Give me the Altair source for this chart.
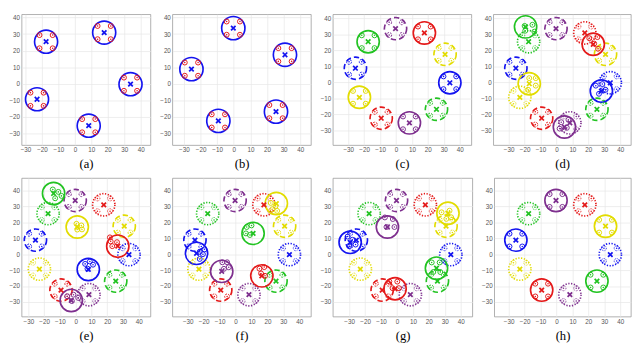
import altair as alt
import pandas as pd

TICKS = [-30, -20, -10, 0, 10, 20, 30, 40]

# initial cluster centres (panel a) and target centres (panel b)
A_X = [-17.5, 17.8, 33.8, -23.0, 8.4]
A_Y = [25.4, 30.9, -0.3, -9.4, -25.4]
A_COL = ["green", "red", "blue", "yellow", "purple"]
B_X = [-0.3, 30.8, -25.5, -9.3, 25.4]
B_Y = [33.6, 17.5, 8.8, -22.5, -16.9]
B_COL = ["purple", "yellow", "blue", "red", "green"]

PALETTE = {"green": "#22c322", "red": "#e41a1a", "blue": "#1414f0",
           "yellow": "#e2dc00", "purple": "#7e2f8e"}

# member offsets inside a static cluster
OFF_DX = [-4, 4, -4, 4]
OFF_DY = [4, 4, -4, -4]

# moving (solid) clusters, order: green, red, blue, yellow, purple
MOVE_COL = ["green", "red", "blue", "yellow", "purple"]
MOVE_X = {
    "c": [-17.5, 17.8, 33.8, -23.0, 8.4],
    "d": [-19.4, 23.1, 28.2, -17.1, 5.0],
    "e": [-14.0, 26.7, 8.0, 1.0, -2.8],
    "f": [11.0, 16.5, -24.5, 25.6, -8.7],
    "g": [24.8, -1.2, -29.4, 32.0, -6.0],
    "h": [25.4, -9.3, -25.5, 30.8, -0.3],
}
MOVE_Y = {
    "c": [25.4, 30.9, -0.3, -9.4, -25.4],
    "d": [34.7, 23.8, -5.5, -0.9, -28.0],
    "e": [38.0, 5.0, -9.6, 17.0, -29.0],
    "f": [13.0, -13.6, 0.5, 31.7, -10.8],
    "g": [-8.8, -21.7, 7.4, 25.6, 17.0],
    "h": [-16.9, -22.5, 8.8, 17.5, 33.6],
}
# member offsets of the moving clusters (4 members each)
MOVE_DX = {
    "d": [[-0.6, 4.3, -0.2, 5.5], [-2.5, 2.6, 0.6, 3.0], [-3.5, 0.6, 2.6, -1.5],
          [0.0, 4.1, 4.1, -0.7], [-2.0, 2.5, -3.0, 1.5]],
    "e": [[-0.5, 3.0, 5.0, 1.0], [-4.5, -3.5, -0.5, -5.0], [-2.0, 1.0, -0.5, 3.0],
          [-0.5, 2.6, 0.0, 3.0], [-2.6, 1.4, 4.4, 0.4]],
    "f": [[-4.0, -1.0, -4.5, -2.0], [-1.5, 1.5, -0.5, 2.0], [2.0, 4.0, 2.0, 5.0],
          [-3.5, -0.5, -2.5, 0.5], [0.4, 3.4, 4.4, 1.4]],
    "g": [[-3.0, 2.0, -2.0, 2.4], [-3.6, 1.4, -1.6, 2.4], [-1.6, 1.4, -0.6, 3.4],
          [-4.0, 1.0, -1.0, 2.0], [-1.6, 3.4, -0.6, 4.4]],
}
MOVE_DY = {
    "d": [[0.6, 1.3, -2.4, -3.0], [3.8, 4.5, 0.4, -2.8], [3.4, 4.4, 0.8, -1.7],
          [3.5, 3.5, -1.2, -3.8], [3.0, 4.5, -1.0, -0.5]],
    "e": [[2.5, 1.0, -1.5, -3.0], [3.0, 0.0, 2.5, 5.5], [3.5, 5.0, 0.5, 3.0],
          [2.0, 1.0, -1.6, -1.5], [2.6, 3.6, 1.6, -0.4]],
    "f": [[4.0, 5.0, 0.0, -1.0], [4.5, 5.5, 1.5, 0.0], [1.0, -0.5, -3.5, 2.5],
          [0.4, -1.6, -3.6, -4.6], [5.7, 5.7, 2.6, 1.6]],
    "g": [[3.6, 3.6, -2.4, -2.4], [4.5, 4.5, 0.4, 0.4], [3.6, 1.6, -2.4, -1.4],
          [0.6, 1.6, -3.5, -2.5], [6.0, 5.0, 0.0, 0.0]],
}

circ_rows, mk_rows = [], []


def add_cluster(p, cx, cy, ccol, mcol, sty, dxs, dys):
    circ_rows.append(dict(panel=p, x=cx, y=cy, col=ccol, sty=sty))
    for dx, dy in zip(dxs, dys):
        mk_rows.append(dict(panel=p, x=cx + dx, y=cy + dy, col=mcol, sty=sty))


for i in range(5):
    add_cluster("a", A_X[i], A_Y[i], PALETTE["blue"], PALETTE["red"], "solid", OFF_DX, OFF_DY)
    add_cluster("b", B_X[i], B_Y[i], PALETTE["blue"], PALETTE["red"], "solid", OFF_DX, OFF_DY)

for p in ["c", "d", "e", "f", "g", "h"]:
    if p != "c":
        for i in range(5):
            c = PALETTE[A_COL[i]]
            add_cluster(p, A_X[i], A_Y[i], c, c, "dotted", OFF_DX, OFF_DY)
    if p != "h":
        for i in range(5):
            c = PALETTE[B_COL[i]]
            add_cluster(p, B_X[i], B_Y[i], c, c, "dashed", OFF_DX, OFF_DY)
    for i in range(5):
        c = PALETTE[MOVE_COL[i]]
        dxs = MOVE_DX[p][i] if p in MOVE_DX else OFF_DX
        dys = MOVE_DY[p][i] if p in MOVE_DY else OFF_DY
        add_cluster(p, MOVE_X[p][i], MOVE_Y[p][i], c, c, "solid", dxs, dys)

circ_df = pd.DataFrame(circ_rows)
mk_df = pd.DataFrame(mk_rows)

BIG_DASH = {"dotted": [1.3, 1.6], "dashed": [5.5, 3.2], "solid": None}
SMALL_DASH = {"dotted": [0.8, 0.9], "dashed": [2.0, 1.2], "solid": None}


def panel(p, title, xd, yd, w, h, big):
    X = alt.X("x:Q", scale=alt.Scale(domain=xd, nice=False, zero=False),
              axis=alt.Axis(values=TICKS, title=title, titleFont="Liberation Serif",
                            titleFontSize=13, titleFontWeight="normal",
                            titleColor="#000000", titlePadding=5))
    Y = alt.Y("y:Q", scale=alt.Scale(domain=yd, nice=False, zero=False),
              axis=alt.Axis(values=TICKS, title=None))
    C = alt.Color("col:N", scale=None)
    layers = []
    for sty in ["dotted", "dashed", "solid"]:
        kw = {}
        if BIG_DASH[sty]:
            kw["strokeDash"] = BIG_DASH[sty]
        layers.append(
            alt.Chart(circ_df).transform_filter(
                f"datum.panel=='{p}' && datum.sty=='{sty}'")
            .mark_point(shape="circle", filled=False, size=big, strokeWidth=1.7,
                        opacity=1, clip=True, **kw)
            .encode(x=X, y=Y, color=C))
        kw2 = {}
        if SMALL_DASH[sty]:
            kw2["strokeDash"] = SMALL_DASH[sty]
        layers.append(
            alt.Chart(mk_df).transform_filter(
                f"datum.panel=='{p}' && datum.sty=='{sty}'")
            .mark_point(shape="circle", filled=False, size=26, strokeWidth=1.0,
                        opacity=1, clip=True, **kw2)
            .encode(x=X, y=Y, color=C))
    layers.append(
        alt.Chart(mk_df).transform_filter(f"datum.panel=='{p}'")
        .mark_point(shape="circle", filled=True, size=2.5, opacity=1, clip=True)
        .encode(x=X, y=Y, color=C))
    layers.append(
        alt.Chart(circ_df).transform_filter(f"datum.panel=='{p}'")
        .mark_point(shape="M-1,-1L1,1M-1,1L1,-1", filled=False, size=22,
                    strokeWidth=1.8, opacity=1, clip=True)
        .encode(x=X, y=Y, color=C))
    return alt.layer(*layers).properties(width=w, height=h)


row1 = alt.hconcat(
    panel("a", "(a)", [-32.4, 45.9], [-37.1, 42.0], 133, 135, 566),
    panel("b", "(b)", [-37.0, 46.4], [-37.1, 42.0], 143, 135, 576),
    panel("c", "(c)", [-39.7, 47.3], [-39.3, 42.6], 143, 135, 529),
    panel("d", "(d)", [-39.7, 46.7], [-39.3, 42.6], 142, 135, 529),
    spacing=7.6,
)
row2 = alt.hconcat(
    panel("e", "(e)", [-34.3, 47.4], [-39.1, 47.7], 133, 143, 529),
    panel("f", "(f)", [-39.7, 47.3], [-39.1, 47.7], 143, 143, 529),
    panel("g", "(g)", [-40.3, 47.3], [-39.1, 47.7], 144, 143, 529),
    panel("h", "(h)", [-39.1, 46.7], [-39.1, 47.7], 141, 143, 529),
    spacing=7.6,
)

chart = alt.vconcat(row1, row2, spacing=6).properties(
    padding=0, background="white"
).configure_view(
    stroke="#9a9a9a", strokeWidth=0.8
).configure_axis(
    labelFont="Liberation Sans", labelFontSize=6.5, labelColor="#555555",
    grid=True, gridColor="#e6e6e6", gridWidth=0.7, ticks=False, domain=False,
    labelPadding=2,
)

chart.save("out.html", embed_options={"renderer": "svg", "actions": False})
